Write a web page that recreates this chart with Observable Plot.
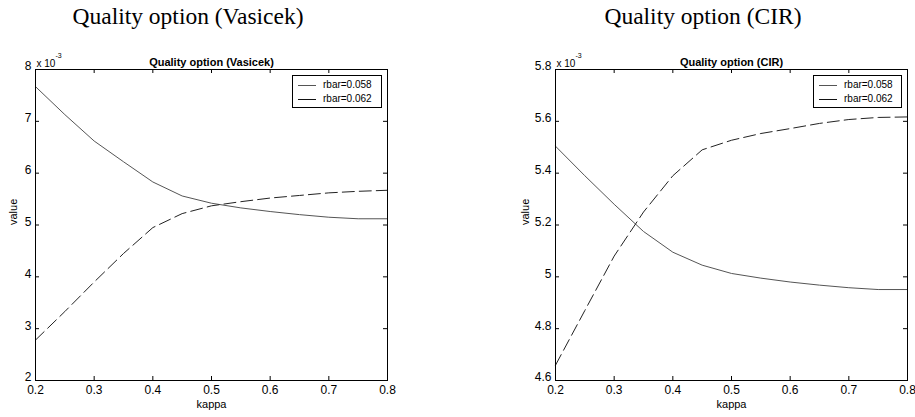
<!DOCTYPE html>
<html>
<head>
<meta charset="utf-8">
<script src="https://cdn.jsdelivr.net/npm/d3@7"></script>
<script src="https://cdn.jsdelivr.net/npm/@observablehq/plot@0.6"></script>
<style>
  body { margin: 0; background: #fff; }
  #wrap { position: relative; width: 915px; height: 417px; overflow: hidden; background: #fff;
          font-family: "Liberation Sans", Arial, sans-serif; }
  .ttl { position: absolute; top: 3px; font-family: "Liberation Serif", "Times New Roman", serif;
         font-size: 23.5px; line-height: 26px; white-space: nowrap; transform: translateX(-50%); color: #000; }
  .panel { position: absolute; top: 0; }
  .legend { position: absolute; box-sizing: border-box; border: 1px solid #000; background: #fff;
            font-size: 10px; color: #000; }
  .legend .row { position: absolute; left: 0; height: 12px; line-height: 12px; }
  .legend svg { position: absolute; left: 5px; top: 0; }
  .legend span { position: absolute; left: 30px; top: 0; white-space: nowrap; }
</style>
</head>
<body>
<div id="wrap"></div>
<script>
// ---------------- data (values in units of 10^-3) ----------------
const kappa = [0.2, 0.25, 0.3, 0.35, 0.4, 0.45, 0.5, 0.55, 0.6, 0.65, 0.7, 0.75, 0.8];

const vasicekR058 = [7.67, 7.13, 6.62, 6.22, 5.83, 5.56, 5.42, 5.33, 5.26, 5.20, 5.15, 5.12, 5.12];
const vasicekR062 = [2.78, 3.33, 3.90, 4.45, 4.95, 5.22, 5.37, 5.45, 5.52, 5.57, 5.62, 5.65, 5.67];

const cirR058 = [5.504, 5.39, 5.28, 5.175, 5.095, 5.045, 5.013, 4.995, 4.98, 4.968, 4.958, 4.951, 4.951];
const cirR062 = [4.659, 4.87, 5.08, 5.25, 5.39, 5.49, 5.527, 5.553, 5.572, 5.592, 5.607, 5.615, 5.617];

const xTicks = [0.2, 0.3, 0.4, 0.5, 0.6, 0.7, 0.8];
const vasicekYTicks = [2, 3, 4, 5, 6, 7, 8];
const cirYTicks = [4.6, 4.8, 5, 5.2, 5.4, 5.6, 5.8];

const seriesLabels = ["rbar=0.058", "rbar=0.062"];
const panelTitles = ["Quality option (Vasicek)", "Quality option (CIR)"];
const xLabel = "kappa";
const yLabel = "value";
const exponentBase = "x 10";
const exponentPow = "-3";

// ---------------- drawing ----------------
const wrap = document.getElementById("wrap");
const H = 417, mT = 69, mB = 37;

function panel({left, width, mL, mR, yDomain, yTicks, s1, s2, title, outerX, legendLeft, legendWidth, yLabelDx}) {
  const fw = width - mL - mR, fh = H - mT - mB;
  const rows1 = kappa.map((k, i) => ({k, v: s1[i]}));
  const rows2 = kappa.map((k, i) => ({k, v: s2[i]}));
  const fmt = d => String(+d.toFixed(1));

  const svg = Plot.plot({
    width, height: H,
    marginLeft: mL, marginRight: mR, marginTop: mT, marginBottom: mB,
    style: {fontFamily: "'Liberation Sans', Arial, sans-serif", fontSize: "11px", background: "transparent", overflow: "visible", color: "#000"},
    x: {domain: [0.2, 0.8]},
    y: {domain: yDomain},
    marks: [
      Plot.line(rows1, {x: "k", y: "v", stroke: "#555", strokeWidth: 1}),
      Plot.line(rows2, {x: "k", y: "v", stroke: "#222", strokeWidth: 1, strokeDasharray: "12,5"}),
      Plot.frame({stroke: "#000", strokeWidth: 1}),
      Plot.ruleX(xTicks, {x: d => d, insetTop: fh - 4, stroke: "#000"}),
      Plot.ruleX(xTicks, {x: d => d, insetBottom: fh - 4, stroke: "#000"}),
      Plot.ruleY(yTicks, {y: d => d, insetRight: fw - 4, stroke: "#000"}),
      Plot.ruleY(yTicks, {y: d => d, insetLeft: fw - 4, stroke: "#000"}),
      Plot.axisX(xTicks, {tickSize: 0, tickPadding: 5, tickFormat: fmt, label: null, fontSize: 12}),
      Plot.axisY(yTicks, {tickSize: 0, tickPadding: 4, tickFormat: fmt, label: null, fontSize: 12, dy: -3}),
      Plot.text([title], {text: d => d, frameAnchor: "top", dy: -11, fontWeight: "bold", fontSize: 11}),
      Plot.text([xLabel], {text: d => d, frameAnchor: "bottom", dy: 27, fontSize: 11}),
      Plot.text([yLabel], {text: d => d, frameAnchor: "left", dx: yLabelDx, rotate: -90, fontSize: 11}),
      Plot.text([exponentBase], {text: d => d, frameAnchor: "top-left", textAnchor: "start", dx: 1, dy: -10, fontSize: 10}),
      Plot.text([exponentPow], {text: d => d, frameAnchor: "top-left", textAnchor: "start", dx: 20, dy: -16, fontSize: 7})
    ]
  });
  svg.classList.add("panel");
  svg.style.left = left + "px";
  wrap.appendChild(svg);

  const t = document.createElement("div");
  t.className = "ttl";
  t.style.left = outerX + "px";
  t.textContent = title;
  wrap.appendChild(t);

  const lg = document.createElement("div");
  lg.className = "legend";
  lg.style.left = legendLeft + "px";
  lg.style.top = "75px";
  lg.style.width = legendWidth + "px";
  lg.style.height = "33px";
  seriesLabels.forEach((lab, i) => {
    const row = document.createElement("div");
    row.className = "row";
    row.style.top = (i === 0 ? 3 : 17) + "px";
    row.style.width = "100%";
    row.innerHTML = `<svg width="20" height="12"><line x1="0" x2="18" y1="6.5" y2="6.5" stroke="${i === 0 ? '#555' : '#111'}" stroke-width="1"/></svg><span>${lab}</span>`;
    lg.appendChild(row);
  });
  wrap.appendChild(lg);
}

panel({left: 0, width: 457, mL: 35, mR: 70, yDomain: [2, 8], yTicks: vasicekYTicks,
       s1: vasicekR058, s2: vasicekR062, title: panelTitles[0], outerX: 188, legendLeft: 292, legendWidth: 90, yLabelDx: -22});
panel({left: 458, width: 457, mL: 97, mR: 8, yDomain: [4.6, 5.8], yTicks: cirYTicks,
       s1: cirR058, s2: cirR062, title: panelTitles[1], outerX: 703, legendLeft: 813, legendWidth: 89, yLabelDx: -30});
</script>
</body>
</html>
